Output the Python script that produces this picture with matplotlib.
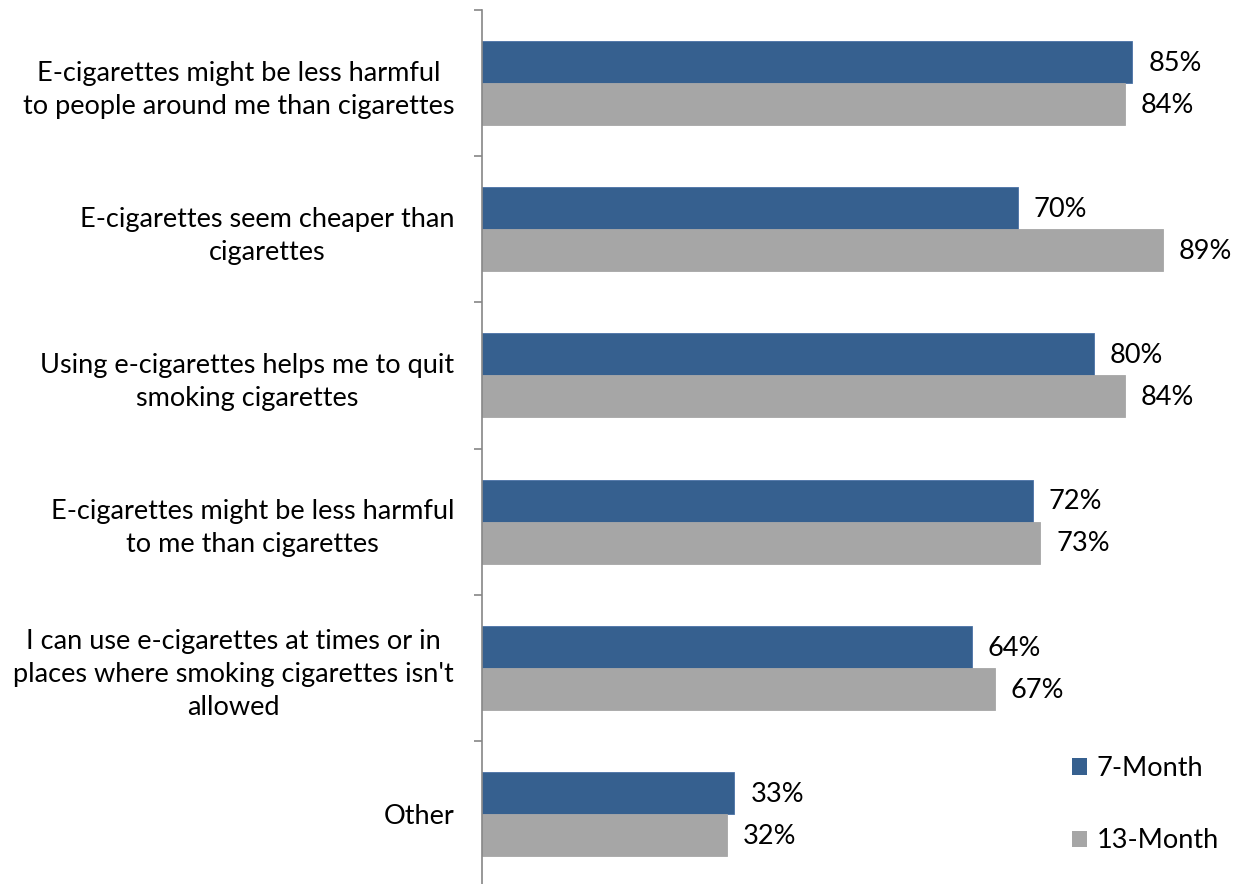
import matplotlib
matplotlib.use("Agg")
import matplotlib.pyplot as plt
import numpy as np
from matplotlib.patches import Patch

categories = [
    "E-cigarettes might be less harmful\nto people around me than cigarettes",
    "E-cigarettes seem cheaper than\ncigarettes",
    "Using e-cigarettes helps me to quit\nsmoking cigarettes",
    "E-cigarettes might be less harmful\nto me than cigarettes",
    "I can use e-cigarettes at times or in\nplaces where smoking cigarettes isn't\nallowed",
    "Other",
]
month7 = [85, 70, 80, 72, 64, 33]
month13 = [84, 89, 84, 73, 67, 32]
series_names = ["7-Month", "13-Month"]

plt.rcParams['font.family'] = ['Lato', 'DejaVu Sans']
FS = 19.5
blue = "#36608F"
gray = "#A6A6A6"

fig = plt.figure(figsize=(12.41, 8.84), dpi=100)
ax = fig.add_axes([482/1241, -3/884, 765/1241, 877/884])

y = np.arange(len(categories))
h = 0.287
ax.barh(y - h/2, month7, height=h, color=blue, edgecolor="#4A72A6", linewidth=0.6)
ax.barh(y + h/2, month13, height=h, color=gray, edgecolor=gray, linewidth=0.6)

for yi, v in zip(y - h/2, month7):
    ax.annotate(f"{v}%", (v, yi), xytext=(11.5, -1), textcoords="offset points",
                ha="left", va="center", fontsize=FS, color="black")
for yi, v in zip(y + h/2, month13):
    ax.annotate(f"{v}%", (v, yi), xytext=(11.5, -1), textcoords="offset points",
                ha="left", va="center", fontsize=FS, color="black")

ax.set_xlim(0, 100)
ax.set_ylim(len(categories) - 0.5, -0.5)
ax.set_yticks(np.arange(len(categories) + 1) - 0.5)
ax.set_yticklabels([])
ax.set_yticks(y, minor=True)
ax.set_yticklabels(categories, minor=True, fontsize=FS, multialignment="center",
                   linespacing=1.4)
ax.tick_params(axis="y", which="major", length=6, width=1.2, color="#868686", direction="out")
ax.tick_params(axis="y", which="minor", length=0, pad=20)
ax.set_xticks([])
for s in ["top", "right", "bottom"]:
    ax.spines[s].set_visible(False)
ax.spines["left"].set_color("#868686")
ax.spines["left"].set_linewidth(1.2)

handles = [Patch(facecolor=blue), Patch(facecolor=gray)]
fig.legend(handles, series_names, loc="upper left", bbox_to_anchor=(1072/1241, 1 - 756/884),
           frameon=False, fontsize=FS, handlelength=0.55, handleheight=0.55,
           handletextpad=0.35, labelspacing=1.75, borderaxespad=0, borderpad=0)

fig.savefig("out.png", dpi=100)
